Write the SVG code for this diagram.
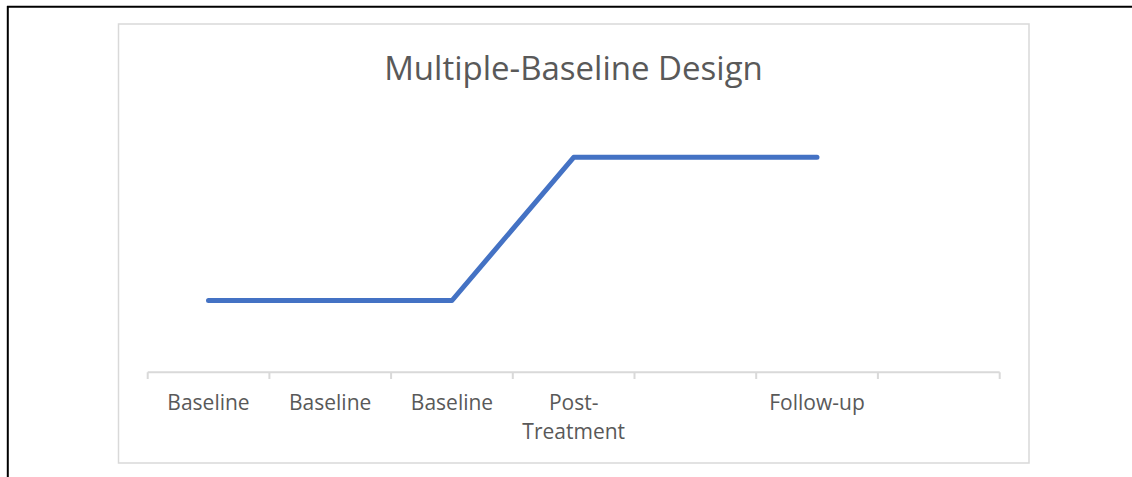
<svg xmlns="http://www.w3.org/2000/svg" width="1132" height="477" viewBox="0 0 1132 477">
<style>
.lbl{font-family:"Open Sans","Liberation Sans",sans-serif;font-size:21px;fill:#595959;text-anchor:middle}
.ttl{font-family:"Open Sans","Liberation Sans",sans-serif;font-size:33px;fill:#595959;text-anchor:middle}
.tick{stroke:#d9d9d9;stroke-width:2;fill:none}
</style>
<rect width="1132" height="477" fill="#ffffff"/>
<g id="page-border">
<line x1="7" y1="6.7" x2="1132" y2="6.7" stroke="#000" stroke-width="2"/>
<line x1="7.8" y1="6" x2="7.8" y2="477" stroke="#000" stroke-width="2"/>
</g>
<g id="chart-area">
<rect x="118.5" y="24" width="910.5" height="439" fill="#ffffff" stroke="#d9d9d9" stroke-width="1.5"/>
</g>
<g id="title">
<text class="ttl" x="573.5" y="80">Multiple-Baseline Design</text>
</g>
<g id="axis">
<path class="tick" d="M147.7 372.3H999.7M147.7 372.3V379M269.4 372.3V379M391.1 372.3V379M512.8 372.3V379M634.5 372.3V379M756.2 372.3V379M877.9 372.3V379M999.7 372.3V379"/>
</g>
<g id="labels">
<text class="lbl" x="208.5" y="410">Baseline</text>
<text class="lbl" x="330.2" y="410">Baseline</text>
<text class="lbl" x="452" y="410">Baseline</text>
<text class="lbl" x="573.7" y="410">Post-</text>
<text class="lbl" x="573.7" y="439">Treatment</text>
<text class="lbl" x="817" y="410">Follow-up</text>
</g>
<g id="connectors">
<polyline points="208.5,300.5 452,300.5 573.7,157.3 817,157.3" fill="none" stroke="#4472c4" stroke-width="5" stroke-linecap="round" stroke-linejoin="round"/>
</g>
</svg>
